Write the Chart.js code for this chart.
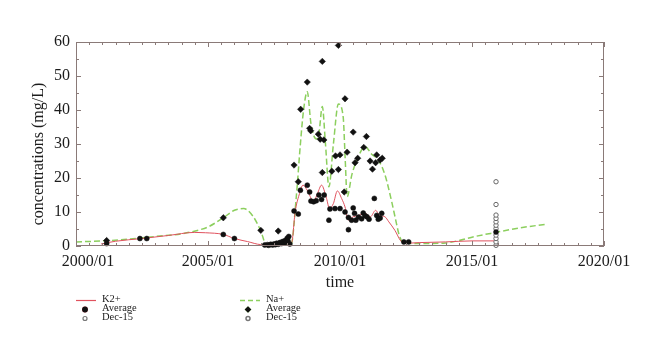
<!DOCTYPE html>
<html>
<head>
<meta charset="utf-8">
<script src="https://cdn.jsdelivr.net/npm/chart.js@4.4.1/dist/chart.umd.min.js"></script>
<style>
	html, body { margin: 0; padding: 0; background: #fff; }
</style>
</head>
<body>
<canvas id="myChart" width="660" height="355"></canvas>
<script>
	// x values are decimal years
	const xLabelYears = [2000, 2005, 2010, 2015, 2020];
	const xLabels = ['2000/01', '2005/01', '2010/01', '2015/01', '2020/01'];

	// K2+ model line
	const kLineX = [2000.95, 2001.5, 2002.5, 2003.5, 2004.5, 2004.9, 2005.58, 2006.0, 2006.5, 2007.0, 2007.5, 2008.05, 2008.17, 2008.3, 2008.45, 2008.6, 2008.75, 2009.0, 2009.15, 2009.3, 2009.49, 2009.6, 2009.75, 2009.9, 2010.06, 2010.19, 2010.32, 2010.5, 2010.7, 2010.95, 2011.15, 2011.35, 2011.5, 2011.7, 2011.85, 2012.08, 2012.3, 2012.45, 2013.0, 2014.0, 2015.0, 2015.9];
	const kLineY = [0.6, 1.4, 2.2, 3.1, 4.0, 3.9, 3.4, 2.2, 1.3, 0.4, 0.3, 0.8, 1.0, 10, 15, 17.9, 16.5, 13.2, 15.5, 17.9, 14, 11, 12.5, 16.2, 14, 11.5, 7.6, 8.6, 9.0, 9.6, 8.6, 10.5, 9.0, 8.6, 7.1, 4.6, 1.5, 0.8, 1.0, 1.2, 1.5, 1.5];

	// Na+ model line
	const naLineX = [2000.0, 2001.0, 2002.0, 2003.0, 2004.0, 2004.7, 2005.0, 2005.58, 2006.0, 2006.35, 2006.7, 2007.0, 2007.2, 2007.6, 2008.15, 2008.35, 2008.5, 2008.62, 2008.76, 2008.9, 2009.1, 2009.2, 2009.33, 2009.45, 2009.58, 2009.75, 2009.94, 2010.12, 2010.2, 2010.27, 2010.45, 2010.65, 2010.95, 2011.2, 2011.45, 2011.7, 2011.96, 2012.1, 2012.25, 2012.4, 2013.0, 2014.0, 2014.5, 2015.0, 2015.9, 2016.8, 2017.8];
	const naLineY = [1.2, 1.5, 2.0, 2.8, 3.6, 4.8, 5.6, 8.3, 10.5, 11.0, 8.8, 4.4, 0.5, 0.3, 0.5, 15, 30, 40, 45.4, 36, 31.5, 33, 41, 30, 17.4, 30, 41.8, 38, 25, 14.5, 21, 25.5, 29.2, 27, 25.3, 21, 13, 8, 3, 1.0, 0.7, 0.9, 1.6, 2.6, 4.0, 5.3, 6.4];

	// K2+ averages (filled circles)
	const kAvgX = [2001.16, 2002.42, 2002.68, 2005.58, 2006.0, 2007.15, 2007.25, 2007.3, 2007.38, 2007.45, 2007.5, 2007.55, 2007.6, 2007.66, 2007.72, 2007.78, 2007.82, 2007.88, 2007.92, 2007.96, 2008.0, 2008.03, 2008.06, 2008.1, 2008.26, 2008.42, 2008.5, 2008.76, 2008.85, 2008.9, 2009.0, 2009.1, 2009.2, 2009.3, 2009.4, 2009.58, 2009.62, 2009.81, 2010.0, 2010.19, 2010.32, 2010.32, 2010.44, 2010.5, 2010.55, 2010.6, 2010.7, 2010.82, 2010.88, 2010.95, 2011.02, 2011.1, 2011.3, 2011.39, 2011.45, 2011.52, 2011.58, 2012.42, 2012.6, 2015.91];
	const kAvgY = [0.7, 2.2, 2.2, 3.4, 2.2, 0.3, 0.4, 0.2, 0.5, 0.3, 0.6, 0.4, 0.8, 0.5, 1.0, 0.7, 1.3, 0.9, 1.6, 1.1, 2.3, 1.5, 2.8, 0.6, 10.3, 9.4, 16.4, 17.9, 15.9, 13.2, 13.0, 13.3, 15.0, 13.7, 15.0, 7.6, 10.9, 11.0, 11.0, 10.0, 8.4, 4.8, 7.6, 11.2, 9.6, 7.6, 8.5, 8.0, 9.7, 8.9, 8.6, 7.9, 14.0, 9.0, 7.9, 8.2, 9.6, 1.2, 1.2, 4.1];

	// Na+ averages (filled diamonds)
	const naAvgX = [2001.16, 2005.58, 2007.0, 2007.66, 2008.26, 2008.42, 2008.51, 2008.76, 2008.85, 2008.89, 2009.18, 2009.25, 2009.33, 2009.33, 2009.39, 2009.69, 2009.83, 2009.94, 2009.94, 2010.0, 2010.16, 2010.19, 2010.27, 2010.5, 2010.57, 2010.67, 2010.9, 2011.0, 2011.14, 2011.23, 2011.35, 2011.39, 2011.52, 2011.6];
	const naAvgY = [1.6, 8.3, 4.6, 4.4, 23.8, 18.9, 40.2, 48.2, 34.6, 33.9, 32.9, 31.4, 54.3, 21.6, 31.2, 22.0, 26.5, 59.0, 22.5, 26.8, 15.9, 43.3, 27.6, 33.5, 24.5, 25.8, 29.0, 32.2, 25.0, 22.6, 24.5, 26.8, 25.3, 25.8];

	// Dec-15 samples (open circles)
	const dec15 = 2015.91;
	const kDecY = [0.2, 1.2, 2.2, 3.2];
	const naDecY = [5.1, 6.1, 7.1, 8.1, 9.1, 12.2, 18.9];

	const RED = '#e0525e';
	const GREEN = '#8ccf5e';
	const FRAME = '#8a7a78';
	const TEXT = '#1c1c1c';
	const SERIF = '"Liberation Serif", "Times New Roman", serif';

	const zip = (xs, ys) => xs.map((x, i) => ({ x: x, y: ys[i] }));

	const framePlugin = {
		id: 'frame',
		afterDraw(chart) {
			const { ctx, chartArea: a, scales: { x, y } } = chart;
			ctx.save();

			// frame + inward ticks
			ctx.strokeStyle = FRAME;
			ctx.lineWidth = 1;
			ctx.strokeRect(a.left + 0.5, a.top + 0.5, a.right - a.left - 1, a.bottom - a.top - 1);
			ctx.beginPath();
			x.ticks.forEach(t => {
				const px = Math.round(x.getPixelForValue(t.value)) + 0.5;
				const len = t.value % 5 === 0 ? 5 : 3;
				ctx.moveTo(px, a.bottom); ctx.lineTo(px, a.bottom - len);
				ctx.moveTo(px, a.top); ctx.lineTo(px, a.top + len);
			});
			y.ticks.forEach(t => {
				const py = Math.round(y.getPixelForValue(t.value)) + 0.5;
				const len = t.value % 10 === 0 ? 5 : 3;
				ctx.moveTo(a.left, py); ctx.lineTo(a.left + len, py);
				ctx.moveTo(a.right, py); ctx.lineTo(a.right - len, py);
			});
			ctx.stroke();

			// x tick labels (first one sits a little to the right, as in the source)
			ctx.fillStyle = TEXT;
			ctx.font = '16px ' + SERIF;
			ctx.textAlign = 'center';
			ctx.textBaseline = 'middle';
			xLabelYears.forEach((v, i) => {
				ctx.fillText(xLabels[i], x.getPixelForValue(v) + (i === 0 ? 12 : 0), a.bottom + 16);
			});

			// axis titles
			ctx.fillText('time', (a.left + a.right) / 2, a.bottom + 37);
			ctx.save();
			ctx.translate(39, (a.top + a.bottom) / 2 + 10);
			ctx.rotate(-Math.PI / 2);
			ctx.fillText('concentrations (mg/L)', 0, 0);
			ctx.restore();

			// legend, two blocks of three rows
			ctx.font = '10.5px ' + SERIF;
			ctx.textAlign = 'left';
			const blocks = [
				{ x: 76, tx: 102, mx: 85, color: RED, dash: [], name: 'K2+', avgStyle: 'circle' },
				{ x: 240, tx: 266, mx: 248, color: GREEN, dash: [5, 3], name: 'Na+', avgStyle: 'rectRot' }
			];
			blocks.forEach(b => {
				ctx.strokeStyle = b.color;
				ctx.lineWidth = b.dash.length ? 1.5 : 1.2;
				ctx.setLineDash(b.dash);
				ctx.beginPath();
				ctx.moveTo(b.x, 300.5); ctx.lineTo(b.x + 20, 300.5);
				ctx.stroke();
				ctx.setLineDash([]);
				ctx.fillStyle = TEXT;
				ctx.fillText(b.name, b.tx, 299.5);
				ctx.fillText('Average', b.tx, 308.5);
				ctx.fillText('Dec-15', b.tx, 317.5);
				Chart.helpers.drawPoint(ctx, { pointStyle: b.avgStyle, radius: 2.3, borderWidth: 1 }, b.mx, 309.5);
				ctx.fillStyle = '#111';
				ctx.strokeStyle = '#111';
				Chart.helpers.drawPoint(ctx, { pointStyle: b.avgStyle, radius: 2.3, borderWidth: 1 }, b.mx, 309.5);
				ctx.fillStyle = '#fff';
				ctx.strokeStyle = '#777';
				Chart.helpers.drawPoint(ctx, { pointStyle: 'circle', radius: 2, borderWidth: 1 }, b.mx, 318.5);
			});
			ctx.restore();
		}
	};

	window.onload = () => {
		Chart.defaults.font.family = SERIF;
		const ctx = document.getElementById('myChart').getContext('2d');
		new Chart(ctx, {
			type: 'scatter',
			data: {
				datasets: [
					{
						label: 'K2+',
						data: zip(kLineX, kLineY),
						showLine: true,
						borderColor: RED,
						borderWidth: 1,
						pointRadius: 0,
						cubicInterpolationMode: 'monotone',
						order: 3
					},
					{
						label: 'Na+',
						data: zip(naLineX, naLineY),
						showLine: true,
						borderColor: GREEN,
						borderWidth: 1.5,
						borderDash: [6, 3],
						pointRadius: 0,
						cubicInterpolationMode: 'monotone',
						order: 4
					},
					{
						label: 'Average',
						data: zip(kAvgX, kAvgY),
						pointStyle: 'circle',
						pointRadius: 2.5,
						backgroundColor: '#111',
						borderColor: '#111',
						borderWidth: 0.5,
						order: 1
					},
					{
						label: 'Average',
						data: zip(naAvgX, naAvgY),
						pointStyle: 'rectRot',
						pointRadius: 3.2,
						backgroundColor: '#111',
						borderColor: '#111',
						borderWidth: 0.5,
						order: 1
					},
					{
						label: 'Dec-15',
						data: kDecY.map(v => ({ x: dec15, y: v })),
						pointStyle: 'circle',
						pointRadius: 2.2,
						backgroundColor: '#fff',
						borderColor: '#666',
						borderWidth: 1,
						order: 2
					},
					{
						label: 'Dec-15',
						data: naDecY.map(v => ({ x: dec15, y: v })),
						pointStyle: 'circle',
						pointRadius: 2.2,
						backgroundColor: '#fff',
						borderColor: '#666',
						borderWidth: 1,
						order: 2
					}
				]
			},
			options: {
				responsive: false,
				animation: false,
				clip: false,
				layout: { padding: { left: 0, top: 42, right: 56, bottom: 0 } },
				plugins: {
					legend: { display: false },
					tooltip: { enabled: false }
				},
				scales: {
					x: {
						type: 'linear',
						min: 2000,
						max: 2020,
						grid: { display: false, drawTicks: false },
						border: { display: false },
						ticks: { display: false, stepSize: 0.5, autoSkip: false },
						afterFit: s => { s.height = 109; }
					},
					y: {
						type: 'linear',
						min: 0,
						max: 60,
						grid: { display: false, drawTicks: false },
						border: { display: false },
						ticks: {
							stepSize: 5,
							autoSkip: false,
							padding: 6,
							color: TEXT,
							font: { size: 16, family: SERIF },
							callback: v => (v % 10 === 0 ? v : '')
						},
						afterFit: s => { s.width = 76; }
					}
				}
			},
			plugins: [framePlugin]
		});
	};
</script>
</body>
</html>
